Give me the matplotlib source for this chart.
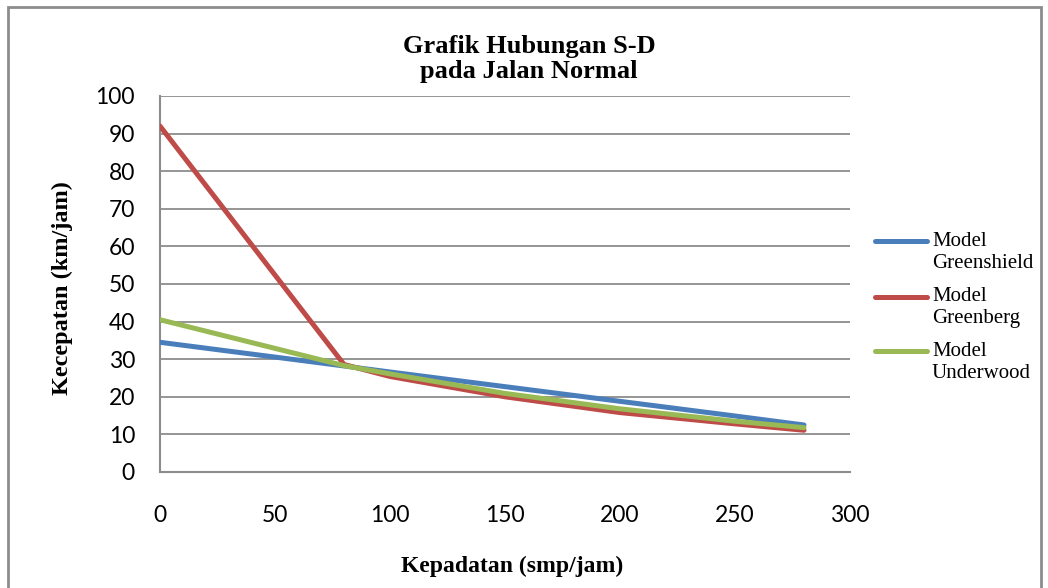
import matplotlib
matplotlib.use("Agg")
import matplotlib.pyplot as plt
from matplotlib.patches import Rectangle
from matplotlib.lines import Line2D

# Data
kepadatan = [0, 80, 100, 150, 200, 250, 280]
greenshield = [34.5, 28.2, 26.6, 22.7, 18.8, 14.9, 12.5]
greenberg = [92.0, 28.6, 25.4, 20.0, 15.8, 12.8, 11.1]
underwood = [40.5, 28.3, 26.1, 20.9, 16.8, 13.5, 11.8]

series_names = ["Greenshield", "Greenberg", "Underwood"]
colors = ["#4A7EBB", "#BE4B48", "#98B954"]

serif = "Liberation Serif"
tick_font = "Lato"
W, H = 1048, 588

fig = plt.figure(figsize=(W / 100, H / 100), dpi=100)
ax = fig.add_axes([160 / W, 1 - 472 / H, 690 / W, 376 / H])

# outer frame of the chart area (cut off at the bottom in the original)
fig.patches.append(Rectangle((8 / W, -0.05), 1033 / W, 1 - 7 / H + 0.05,
                             transform=fig.transFigure, fill=False,
                             edgecolor="#8c8c8c", linewidth=2))

for vals, name, c in zip([greenshield, greenberg, underwood], series_names, colors):
    ax.plot(kepadatan, vals, color=c, lw=3.6, solid_capstyle="round", zorder=3)

ax.set_xlim(0, 300)
ax.set_ylim(0, 100)
ax.set_xticks(range(0, 301, 50))
ax.set_yticks(range(0, 101, 10))
ax.yaxis.grid(True, color="#8c8c8c", lw=1.3)
ax.set_axisbelow(True)
for s in ["top", "right"]:
    ax.spines[s].set_visible(False)
for s in ["left", "bottom"]:
    ax.spines[s].set_color("#8c8c8c")
    ax.spines[s].set_linewidth(1.5)
ax.tick_params(length=0)
ax.tick_params(axis="x", pad=24)
ax.tick_params(axis="y", pad=18)
for lab in ax.get_xticklabels() + ax.get_yticklabels():
    lab.set_fontfamily(tick_font)
    lab.set_fontsize(16.5)

fig.text(529 / W, 1 - 59 / H, "Grafik Hubungan S-D\npada Jalan Normal",
         ha="center", va="center", fontfamily=serif, fontweight="bold",
         fontsize=19, linespacing=1.15)
fig.text(512 / W, 1 - 566 / H, "Kepadatan (smp/jam)", ha="center", va="center",
         fontfamily=serif, fontweight="bold", fontsize=17)
fig.text(62 / W, 1 - 288 / H, "Kecepatan (km/jam)", ha="center", va="center",
         rotation=90, fontfamily=serif, fontweight="bold", fontsize=17.5)

# legend, handle aligned with the first text line like the original
leg_y = [241, 297, 351]
for name, c, y in zip(series_names, colors, leg_y):
    fig.add_artist(Line2D([875 / W, 927 / W], [1 - y / H, 1 - y / H], color=c,
                          lw=3.6, solid_capstyle="round"))
    fig.text(932 / W, 1 - y / H, "Model", ha="left", va="center",
             fontfamily=serif, fontsize=15)
    fig.text(932 / W, 1 - (y + 22) / H, name, ha="left", va="center",
             fontfamily=serif, fontsize=15)

fig.savefig("out.png", dpi=100)
